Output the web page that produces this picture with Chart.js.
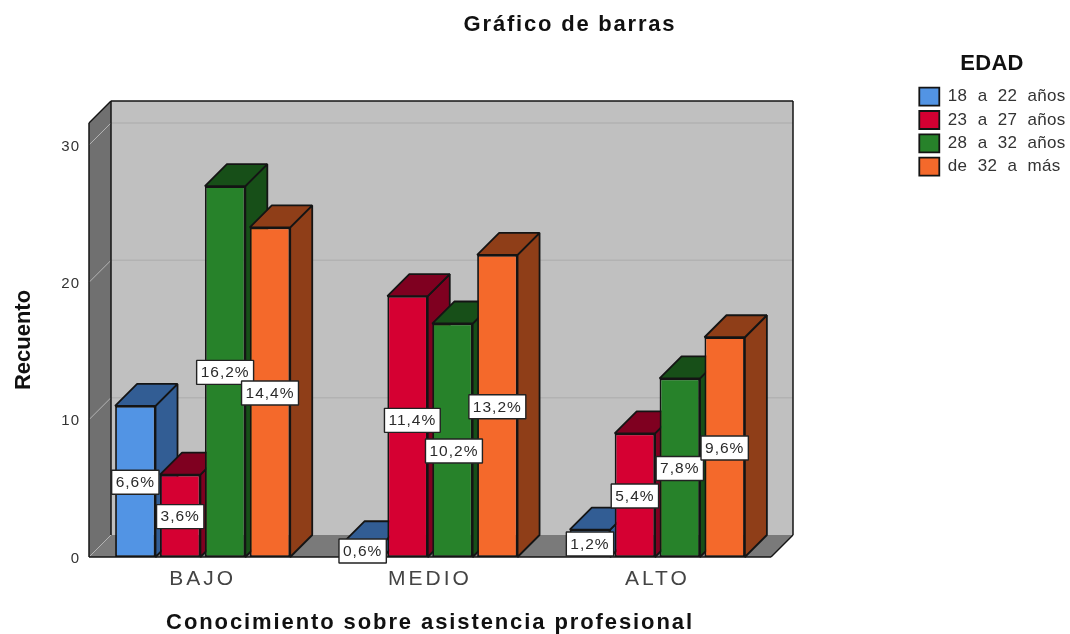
<!DOCTYPE html>
<html><head><meta charset="utf-8">
<style>html,body{margin:0;padding:0;background:#fff}canvas{display:block}</style>
<script src="https://cdn.jsdelivr.net/npm/chart.js@4/dist/chart.umd.min.js"></script>
</head><body>
<canvas id="c" width="1070" height="634"></canvas>
<script>
const categories = ['BAJO', 'MEDIO', 'ALTO'];
const seriesNames = ['18 a 22 años', '23 a 27 años', '28 a 32 años', 'de 32 a más'];
const edad18a22 = [11, 1, 2];
const edad23a27 = [6, 19, 9];
const edad28a32 = [27, 17, 13];
const edad32aMas = [24, 22, 16];
const pct18a22 = ['6,6%', '0,6%', '1,2%'];
const pct23a27 = ['3,6%', '11,4%', '5,4%'];
const pct28a32 = ['16,2%', '10,2%', '7,8%'];
const pct32aMas = ['14,4%', '13,2%', '9,6%'];
const yTicks = [0, 10, 20, 30];
const frontColors = ['#5294e4', '#d50032', '#27822a', '#f4692b'];
const sideColors = ['#325d94', '#7f0020', '#174f18', '#8f3e18'];

const values = [edad18a22, edad23a27, edad28a32, edad32aMas];
const pcts = [pct18a22, pct23a27, pct28a32, pct32aMas];
const FONT = '"Liberation Sans", Arial, sans-serif';
const EDGE = '#141414';
const DEPTH = 22;
// the two labels that the original chart moved apart so they would not collide
const labelShift = { '11,4%': [4.8, -7], '10,2%': [1.5, 10] };

function spaced(obj, method, ctx, ls, ws, dy) {
  const orig = obj[method];
  obj[method] = function () {
    ctx.save();
    if (dy) ctx.translate(0, dy);
    ctx.letterSpacing = ls; ctx.wordSpacing = ws || '0px';
    const r = orig.apply(this, arguments);
    ctx.restore();
    return r;
  };
}
function poly(ctx, pts, fill, stroke, lw) {
  ctx.beginPath();
  pts.forEach((p, i) => i ? ctx.lineTo(p[0], p[1]) : ctx.moveTo(p[0], p[1]));
  ctx.closePath();
  if (fill) { ctx.fillStyle = fill; ctx.fill(); }
  if (stroke) { ctx.strokeStyle = stroke; ctx.lineWidth = lw; ctx.stroke(); }
}
function line(ctx, x1, y1, x2, y2, color, lw) {
  ctx.beginPath(); ctx.moveTo(x1, y1); ctx.lineTo(x2, y2);
  ctx.strokeStyle = color; ctx.lineWidth = lw; ctx.stroke();
}

const bars3d = {
  id: 'bars3d',
  beforeLayout(chart) {
    const l = chart.legend;
    if (l && !l.__w) {
      l.__w = true;
      const f = l.fit;
      l.fit = function () { f.call(this); this.width = 299; };
    }
  },
  afterLayout(chart) {
    const ctx = chart.ctx, l = chart.legend, t = chart.titleBlock;
    l.left = 914; l.right = 1070; l.width = 156; l.top = 50; l.bottom = 630; l.height = 580;
    t.left = 70; t.right = 1070;
    if (!chart.__sp) {
      chart.__sp = true;
      spaced(t, 'draw', ctx, '1.8px', '0px');
      spaced(l, 'draw', ctx, '0.3px', '5.3px');
      spaced(l, '_drawTitle', ctx, '4px', '0px');
      spaced(chart.scales.x, 'drawLabels', ctx, '3px');
      spaced(chart.scales.x, 'drawTitle', ctx, '1.9px', '0px');
      spaced(chart.scales.y, 'drawLabels', ctx, '1px', '0px', 1.5);
      spaced(chart.scales.y, 'drawTitle', ctx, '0px');
    }
  },
  beforeDatasetsDraw(chart) {
    const ctx = chart.ctx, a = chart.chartArea, ys = chart.scales.y, d = DEPTH;
    ctx.save();
    ctx.lineJoin = 'bevel';
    poly(ctx, [[a.left + d, a.top - d], [a.right + d, a.top - d], [a.right + d, a.bottom - d], [a.left + d, a.bottom - d]], '#c0c0c0');
    poly(ctx, [[a.left, a.top], [a.left + d, a.top - d], [a.left + d, a.bottom - d], [a.left, a.bottom]], '#707070');
    poly(ctx, [[a.left, a.bottom], [a.right, a.bottom], [a.right + d, a.bottom - d], [a.left + d, a.bottom - d]], '#7a7a7a');
    yTicks.forEach(v => {
      const y = ys.getPixelForValue(v);
      line(ctx, a.left, y, a.left + d, y - d, '#b4b4b4', 1);
      if (v > 0) line(ctx, a.left + d, y - d, a.right + d, y - d, '#b2b2b2', 1.5);
    });
    line(ctx, a.left + d, a.top - d, a.right + d, a.top - d, EDGE, 1.5);
    line(ctx, a.left + d, a.top - d, a.left + d, a.bottom - d, EDGE, 1.5);
    line(ctx, a.right + d, a.top - d, a.right + d, a.bottom - d, EDGE, 1.5);
    line(ctx, a.left, a.top, a.left + d, a.top - d, EDGE, 1.5);
    line(ctx, a.left, a.top, a.left, a.bottom, EDGE, 1.5);
    line(ctx, a.left, a.bottom, a.right, a.bottom, EDGE, 1.5);
    line(ctx, a.right, a.bottom, a.right + d, a.bottom - d, EDGE, 1.5);
    chart.data.datasets.forEach((ds, i) => {
      const meta = chart.getDatasetMeta(i);
      meta.data.forEach(el => {
        const l = el.x - el.width / 2, r = el.x + el.width / 2, t = el.y, b = el.base;
        poly(ctx, [[r, t], [r + d, t - d], [r + d, b - d], [r, b]], sideColors[i], EDGE, 1.8);
        poly(ctx, [[l, t], [l + d, t - d], [r + d, t - d], [r, t]], sideColors[i], EDGE, 1.8);
      });
      meta.controller.draw();
    });
    ctx.font = '15.5px ' + FONT;
    ctx.textAlign = 'center';
    ctx.textBaseline = 'middle';
    ctx.letterSpacing = '1px';
    chart.data.datasets.forEach((ds, i) => {
      chart.getDatasetMeta(i).data.forEach((el, j) => {
        const txt = pcts[i][j];
        const s = labelShift[txt] || [0, 0];
        const w = ctx.measureText(txt).width + 8, h = 24;
        const cx = el.x + s[0], cy = (el.y + el.base) / 2 + 0.8 + s[1];
        ctx.fillStyle = '#fff';
        ctx.fillRect(cx - w / 2, cy - h / 2, w, h);
        ctx.strokeStyle = '#222'; ctx.lineWidth = 1.4;
        ctx.strokeRect(cx - w / 2, cy - h / 2, w, h);
        ctx.fillStyle = '#2a2a2a';
        ctx.fillText(txt, cx, cy + 0.5);
      });
    });
    ctx.restore();
    return false;
  }
};

new Chart(document.getElementById('c'), {
  type: 'bar',
  plugins: [bars3d],
  data: {
    labels: categories,
    datasets: seriesNames.map((name, i) => ({
      label: name,
      data: values[i],
      backgroundColor: frontColors[i],
      borderColor: EDGE,
      borderWidth: 1.8,
      borderSkipped: false,
      categoryPercentage: 0.79,
      barPercentage: 0.9
    }))
  },
  options: {
    responsive: false,
    animation: false,
    devicePixelRatio: 1,
    events: [],
    layout: { padding: 0 },
    plugins: {
      tooltip: { enabled: false },
      title: {
        display: true,
        text: 'Gráfico de barras',
        color: '#111',
        font: { family: FONT, size: 22, weight: 'bold', lineHeight: 1.2 },
        padding: { top: 11.8, bottom: 84.8 }
      },
      legend: {
        position: 'right',
        align: 'start',
        title: {
          display: true,
          text: 'EDAD',
          color: '#111',
          font: { family: FONT, size: 22, weight: 'bold' },
          padding: { top: 3, bottom: 3 }
        },
        labels: {
          color: '#333',
          font: { family: FONT, size: 17 },
          boxWidth: 20,
          boxHeight: 18,
          padding: 5.3
        }
      }
    },
    scales: {
      x: {
        grid: { display: false, drawTicks: false },
        border: { display: false },
        afterFit(s) { s.height = 77; },
        ticks: { color: '#444', font: { family: FONT, size: 21 }, padding: 10, maxRotation: 0 },
        title: {
          display: true,
          text: 'Conocimiento sobre asistencia profesional',
          color: '#111',
          font: { family: FONT, size: 22, weight: 'bold', lineHeight: 1.05 },
          padding: { top: 0, bottom: 0 }
        }
      },
      y: {
        min: 0,
        max: 31.6,
        grid: { display: false, drawTicks: false },
        border: { display: false },
        afterFit(s) { s.width = 89; },
        ticks: { stepSize: 10, includeBounds: false, color: '#333', font: { family: FONT, size: 15 }, padding: 9 },
        title: {
          display: true,
          text: 'Recuento',
          color: '#111',
          font: { family: FONT, size: 22, weight: 'bold', lineHeight: 1.2 },
          padding: { top: 11, bottom: 0 }
        }
      }
    }
  }
});
</script>
</body></html>
